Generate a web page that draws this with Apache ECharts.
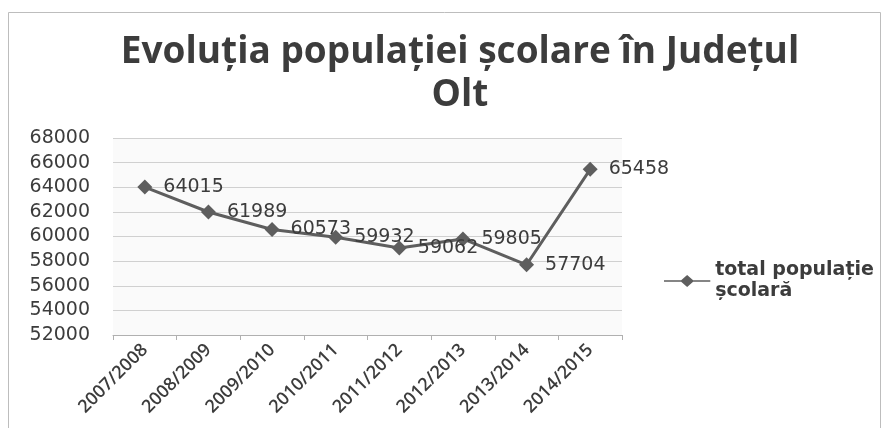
<!DOCTYPE html>
<html><head><meta charset="utf-8">
<script src="https://cdn.jsdelivr.net/npm/echarts@6/dist/echarts.min.js"></script>
<style>html,body{margin:0;padding:0;background:#fff}#c{width:887px;height:428px}</style>
</head><body><div id="c"></div>
<script>
const categories = ['2007/2008','2008/2009','2009/2010','2010/2011','2011/2012','2012/2013','2013/2014','2014/2015'];
const values = [64015, 61989, 60573, 59932, 59062, 59805, 57704, 65458];
const seriesName = 'total populație\nșcolară';
const titleText = 'Evoluția populației școlare în Județul\nOlt';

const chart = echarts.init(document.getElementById('c'));
chart.setOption({
  backgroundColor: '#ffffff',
  animation: false,
  graphic: [
    { type: 'rect', shape: { x: 8.5, y: 12.5, width: 872, height: 420 }, style: { fill: 'none', stroke: '#bdbdbd', lineWidth: 1 } }
  ],
  title: {
    text: titleText,
    left: 455, textAlign: 'center', top: 26,
    textStyle: { fontFamily: 'Open Sans', fontWeight: 'bold', fontSize: 37, color: '#3c3c3c', lineHeight: 43 }
  },
  legend: {
    left: 659, top: 255, orient: 'vertical',
    itemWidth: 54, itemHeight: 12, itemGap: 2,
    icon: 'path://M0,6 L20,6 L27,0 L34,6 L54,6 L54,8 L34,8 L27,14 L20,8 L0,8 Z',
    textStyle: { fontFamily: 'DejaVu Sans', fontWeight: 'bold', fontSize: 19, color: '#3c3c3c', lineHeight: 21, padding: [0,0,0,-4] },
    data: [seriesName]
  },
  grid: { left: 113, right: 265, top: 138, bottom: 93, show: true, backgroundColor: '#fafafa', borderWidth: 0 },
  xAxis: {
    type: 'category', data: categories, boundaryGap: true,
    axisLine: { lineStyle: { color: '#b0b0b0' } },
    axisTick: { show: true, lineStyle: { color: '#b0b0b0' }, length: 5 },
    axisLabel: { rotate: 45, fontFamily: 'Open Sans', fontWeight: 600, fontSize: 18, color: '#3c3c3c', margin: 12, interval: 0 }
  },
  yAxis: {
    type: 'value', min: 52000, max: 68000, interval: 2000,
    axisLine: { show: false }, axisTick: { show: false },
    splitLine: { lineStyle: { color: '#d0d0d0' } },
    axisLabel: { fontFamily: 'DejaVu Sans', fontSize: 19, color: '#3c3c3c', margin: 23, formatter: v => String(v) }
  },
  series: [{
    name: seriesName, type: 'line', data: values,
    symbol: 'diamond', symbolSize: 15,
    lineStyle: { color: '#5e5e5e', width: 3 },
    itemStyle: { color: '#5e5e5e' },
    label: { show: true, position: 'right', distance: 11, fontFamily: 'DejaVu Sans', fontSize: 19, color: '#3c3c3c' }
  }]
});
</script></body></html>
